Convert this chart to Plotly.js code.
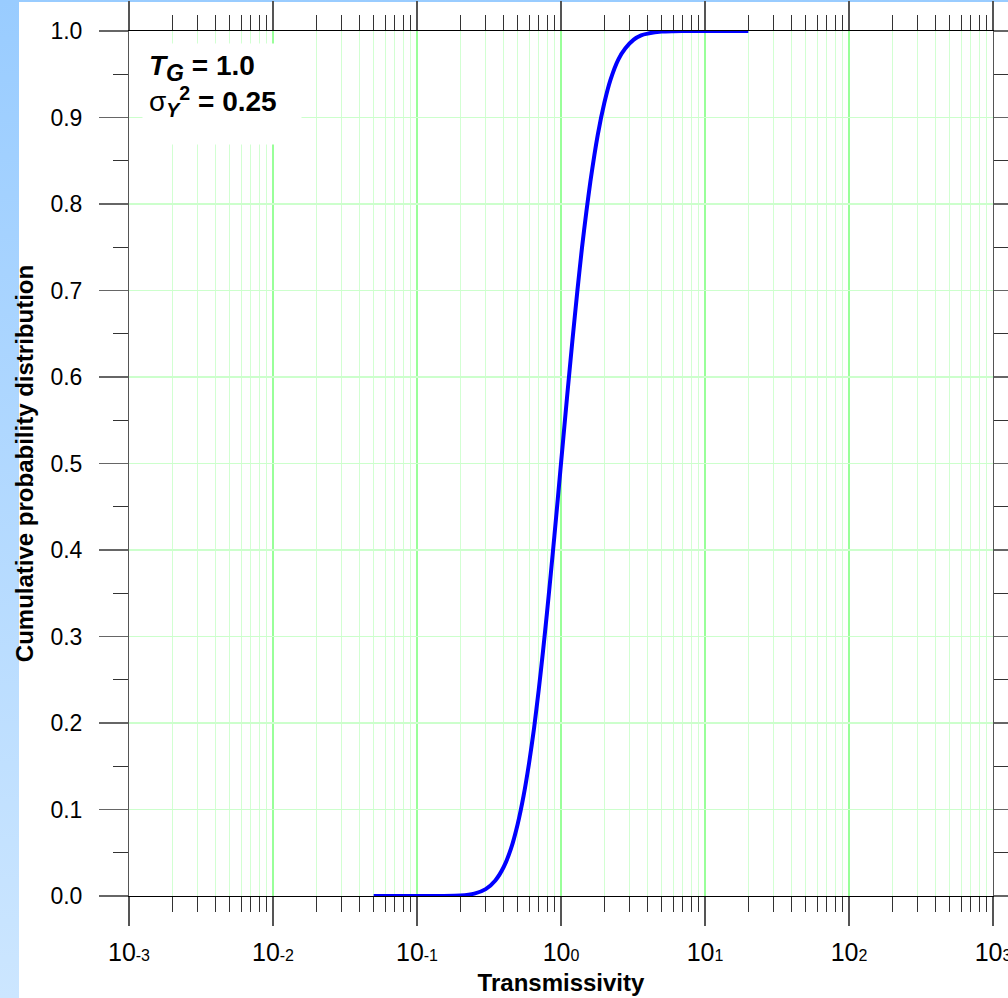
<!DOCTYPE html>
<html>
<head>
<meta charset="utf-8">
<script src="https://cdn.plot.ly/plotly-3.0.1.min.js"></script>
<style>
  html, body { margin: 0; padding: 0; }
  #wrap {
    width: 1008px; height: 998px; position: relative;
    background:
      linear-gradient(#ffffff, #ffffff) 19px 2px / 989px 996px no-repeat,
      linear-gradient(to bottom, #99ccff, #cce6ff);
  }
  #chart { width: 1008px; height: 998px; }
</style>
</head>
<body>
<div id="wrap"><div id="chart"></div></div>
<script>
// Transmissivity values (x) and cumulative probability (y)
const transmissivity = [0.05, 0.1, 0.15, 0.2, 0.25, 0.3, 0.35, 0.4, 0.45, 0.5, 0.55, 0.6, 0.65, 0.7, 0.75, 0.8, 0.85, 0.9, 0.95, 1.0,
  1.1, 1.2, 1.3, 1.4, 1.5, 1.6, 1.8, 2.0, 2.2, 2.5, 2.8, 3.2, 3.6, 4.0, 5.0, 6.0, 8.0, 10, 15, 20];
const cumulativeProb = [0.0, 0.0, 0.0001, 0.0006, 0.0028, 0.008, 0.018, 0.0335, 0.055, 0.083, 0.116, 0.1535, 0.194, 0.238, 0.283, 0.328, 0.373, 0.4165, 0.459, 0.5,
  0.5756, 0.642, 0.700, 0.750, 0.791, 0.826, 0.880, 0.917, 0.943, 0.967, 0.980, 0.990, 0.995, 0.997, 0.9994, 0.9998, 1.0, 1.0, 1.0, 1.0];

const xTickVals = [0.001, 0.01, 0.1, 1, 10, 100, 1000];
const xTickText = ["10<span style='font-size:16px'>-3</span>", "10<span style='font-size:16px'>-2</span>",
  "10<span style='font-size:16px'>-1</span>", "10<span style='font-size:16px'>0</span>",
  "10<span style='font-size:16px'>1</span>", "10<span style='font-size:16px'>2</span>",
  "10<span style='font-size:16px'>3</span>"];
const yTickVals = [0, 0.1, 0.2, 0.3, 0.4, 0.5, 0.6, 0.7, 0.8, 0.9, 1.0];
const yTickText = ["0.0", "0.1", "0.2", "0.3", "0.4", "0.5", "0.6", "0.7", "0.8", "0.9", "1.0"];

const font = "Liberation Sans, Arial, sans-serif";

const trace = {
  x: transmissivity, y: cumulativeProb, type: 'scatter', mode: 'lines',
  line: { color: '#0000ff', width: 4, shape: 'spline', smoothing: 0.6 },
  hoverinfo: 'skip', showlegend: false
};

const layout = {
  width: 1008, height: 998,
  margin: { l: 129, r: 15, t: 31, b: 102, pad: 0 },
  paper_bgcolor: 'rgba(0,0,0,0)',
  plot_bgcolor: '#ffffff',
  font: { family: font, color: '#000' },
  xaxis: {
    type: 'log', range: [-3, 3.00001], autorange: false,
    tickmode: 'array', tickvals: xTickVals, ticktext: xTickText,
    tickfont: { size: 25, family: font, color: '#000' },
    ticklabeloverflow: 'allow',
    ticks: 'outside', ticklen: 29, tickwidth: 1.5, tickcolor: '#555',
    ticklabelstandoff: 5,
    showgrid: true, gridcolor: '#99ff99', gridwidth: 2,
    minor: { dtick: 'D1', ticks: 'outside', ticklen: 15, tickwidth: 1, tickcolor: '#333',
             showgrid: true, gridcolor: '#d2ffd2', gridwidth: 1 },
    showline: true, linecolor: '#000', linewidth: 1, mirror: 'allticks',
    zeroline: false,
    title: { text: '<b>Transmissivity</b>', font: { size: 24, family: font, color: '#000' }, standoff: 9 },
    automargin: false
  },
  yaxis: {
    range: [0, 1], autorange: false,
    tickmode: 'array', tickvals: yTickVals, ticktext: yTickText,
    tickfont: { size: 23, family: font, color: '#000' },
    ticks: 'outside', ticklen: 29, tickwidth: 1.5, tickcolor: '#666',
    ticklabelstandoff: 12,
    showgrid: true, gridcolor: '#ccffcc', gridwidth: 1.5,
    minor: { dtick: 0.05, ticks: 'outside', ticklen: 15, tickwidth: 1, tickcolor: '#333', showgrid: false },
    showline: true, linecolor: '#555', linewidth: 1, mirror: 'allticks',
    zeroline: false,
    title: { text: '<b>Cumulative probability distribution</b>', font: { size: 24, family: font, color: '#000' }, standoff: 10 },
    automargin: false
  },
  annotations: [{
    xref: 'paper', yref: 'paper', x: 0.015, y: 0.986, xanchor: 'left', yanchor: 'top',
    text: "<b><i>T</i><sub><i><span style='font-size:23px'>G</span></i></sub> = 1.0</b><br>σ<sub><b><i>Y</i></b></sub><sup><b>2</b></sup><b> = 0.25</b>",
    showarrow: false, align: 'left', valign: 'top', bgcolor: '#ffffff', borderpad: 6,
    width: 146, height: 88,
    font: { size: 28, family: font, color: '#000' }
  }]
};

Plotly.newPlot('chart', [trace], layout, { displayModeBar: false, staticPlot: true });
</script>
</body>
</html>
